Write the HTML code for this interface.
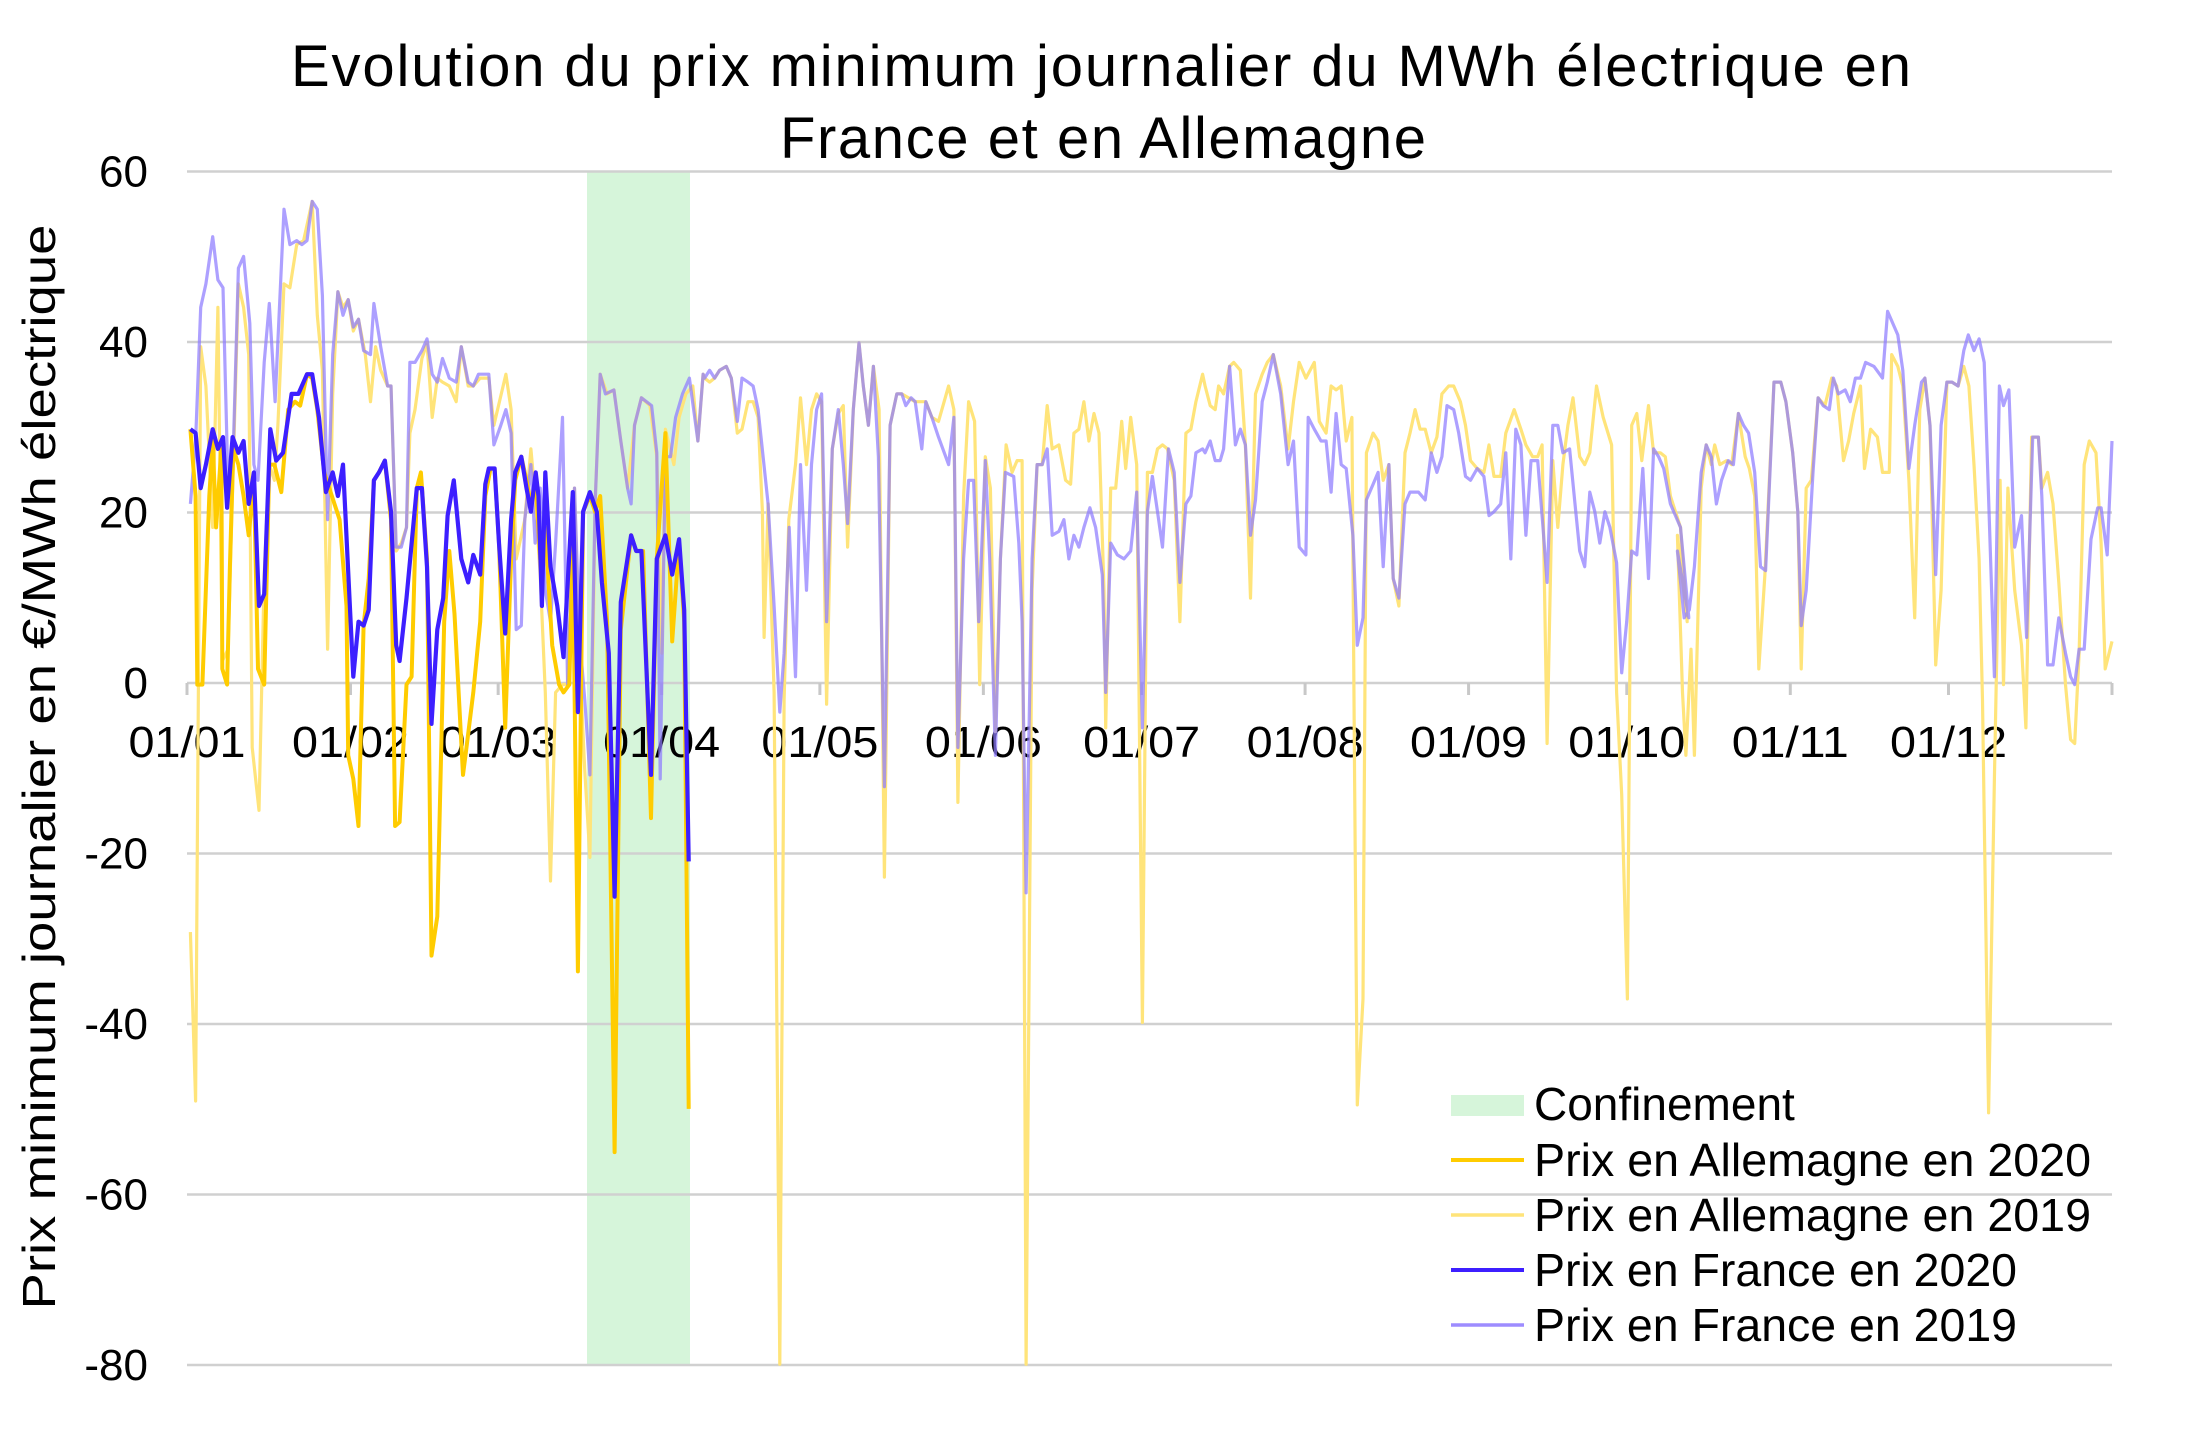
<!DOCTYPE html>
<html><head><meta charset="utf-8">
<style>
html,body{margin:0;padding:0;background:#fff;}
svg{display:block;}
text{font-family:"Liberation Sans",Arial,sans-serif;fill:#000;}
</style></head>
<body>
<svg id="s" width="2200" height="1429" viewBox="0 0 2200 1429" xmlns="http://www.w3.org/2000/svg">
<rect x="0" y="0" width="2200" height="1429" fill="#fff"/>
<text x="1101" y="86" font-size="58" text-anchor="middle" textLength="1620" lengthAdjust="spacing">Evolution du prix minimum journalier du MWh électrique en</text>
<text x="1103" y="158" font-size="58" text-anchor="middle" textLength="646" lengthAdjust="spacing">France et en Allemagne</text>
<text transform="translate(55,767) rotate(-90)" font-size="46" text-anchor="middle" textLength="1085" lengthAdjust="spacingAndGlyphs">Prix minimum journalier en €/MWh électrique</text>
<g id="plot"></g>
<g font-size="46">
<rect x="1451" y="1095" width="73" height="21" fill="#D6F5DA"/>
<text x="1534" y="1120">Confinement</text>
<line x1="1451" y1="1160" x2="1524" y2="1160" stroke="#FFCC00" stroke-width="4"/>
<text x="1534" y="1176" textLength="557" lengthAdjust="spacingAndGlyphs">Prix en Allemagne en 2020</text>
<line x1="1451" y1="1215" x2="1524" y2="1215" stroke="#FFE47A" stroke-width="3.5"/>
<text x="1534" y="1231" textLength="557" lengthAdjust="spacingAndGlyphs">Prix en Allemagne en 2019</text>
<line x1="1451" y1="1270" x2="1524" y2="1270" stroke="#3D1FFF" stroke-width="4"/>
<text x="1534" y="1286" textLength="483" lengthAdjust="spacingAndGlyphs">Prix en France en 2020</text>
<line x1="1451" y1="1325" x2="1524" y2="1325" stroke="#9D8CFF" stroke-width="3.5"/>
<text x="1534" y="1341" textLength="483" lengthAdjust="spacingAndGlyphs">Prix en France en 2019</text>
</g>
</svg>
<script>
var NS="http://www.w3.org/2000/svg";
var g=document.getElementById('plot');
var L=187,R=2112,Y0=683,PV=8.525,PD=(R-L)/365;
function X(d){return L+d*PD;}
function Y(v){return Y0-v*PV;}
function el(t,a,p){var e=document.createElementNS(NS,t);for(var k in a)e.setAttribute(k,a[k]);(p||g).appendChild(e);return e;}
el('rect',{x:587,y:Y(60),width:103,height:Y(-80)-Y(60),fill:'#D6F5DA'});
for(var v=60;v>=-80;v-=20){
 el('line',{x1:L,x2:R,y1:Y(v),y2:Y(v),stroke:'#D0D0D0','stroke-width':2.5});
 var t=el('text',{x:148,y:Y(v)+15,'font-size':44,'text-anchor':'end'});t.textContent=v;
}
var months=[0,31,59,90,120,151,181,212,243,273,304,334,365];
var lbl=['01/01','01/02','01/03','01/04','01/05','01/06','01/07','01/08','01/09','01/10','01/11','01/12'];
months.forEach(function(d,i){
 el('line',{x1:X(d),x2:X(d),y1:Y0,y2:Y0+12,stroke:'#C8C8C8','stroke-width':3});
 if(i<12){var t=el('text',{x:X(d),y:757,'font-size':44,'text-anchor':'middle',textLength:117,lengthAdjust:'spacingAndGlyphs'});t.textContent=lbl[i];}
});
function conv(seg,pts){
 var o=[];
 for(var i=0;i<pts.length;i+=2){
  var xz=pts[i],yz=pts[i+1],d;
  if(seg==0)d=Math.max(0,(xz-15)/15.38);
  else if(seg==1)d=112.4+(xz-235)/15.78;
  else if(seg==2)d=221.9+(xz-468)/15.7;
  else d=341.6+(xz-918)/15.56;
  if(d>365)d=365;
  var v=(678-yz)/10.85;
  if(v<-80)v=-80;
  o.push([X(d),Y(v)]);
 }
 return o;
}
function line(segs,col,w,op){
 var all=[];segs.forEach(function(s){all=all.concat(conv(s[0],s[1]));});
 el('polyline',{points:all.map(function(p){return p[0].toFixed(1)+','+p[1].toFixed(1);}).join(' '),fill:'none',stroke:col,'stroke-width':w,'stroke-linejoin':'round','stroke-opacity':op||1});
}
var DE19=[[0,[25,995,40,1210,55,250,70,300,90,480,105,200,118,650,135,635,150,400,165,170,180,200,195,260,205,760,225,840,240,540,255,400,270,420,280,350,298,170,315,175,335,120,355,115,380,65,395,210,410,280,425,635,440,310,455,180,470,200,485,190,500,230,515,215,535,260,550,320,565,250,580,280,600,300,610,300,625,510,640,500,655,480,665,360,680,330,700,265,715,245,730,340,745,290,760,295,780,300,800,320,815,250,835,300,850,300,870,290,895,290,910,350,945,285,960,330,975,520,1000,470,1018,380,1030,440,1045,540,1060,690,1075,930,1090,690,1110,680,1125,680,1145,430,1160,650,1175,790,1190,900,1205,450,1220,285,1240,310,1260,305,1280,370,1300,430,1320,350,1340,315,1365,325,1385,390,1400,640,1410,355,1435,400,1450,340,1470,310,1490,300,1505,370,1520,285]],
[1,[10,290,25,295,40,290,55,280,75,275,90,290,108,360,122,355,140,320,155,320,170,340,183,460,188,620,200,450,218,690,235,1545,248,700,262,470,282,400,297,315,315,400,330,330,345,310,360,320,375,705,392,380,410,335,425,325,438,505,455,330,472,245,485,300,500,350,515,275,532,330,548,925,565,350,585,310,600,310,640,320,672,320,690,340,710,345,740,300,756,330,768,830,785,440,800,320,818,345,833,680,850,390,865,430,880,740,895,520,912,375,930,410,945,395,960,395,972,1545,990,560,1005,400,1020,400,1035,325,1050,380,1070,375,1090,420,1105,425,1115,360,1130,355,1145,320,1160,370,1175,335,1190,360,1205,560,1210,735,1225,430,1240,430,1258,345,1270,405,1285,340,1303,400,1320,1110,1335,410,1350,410,1365,380,1380,375,1395,380,1415,420,1432,600,1450,360,1465,355,1480,320,1500,285]],
[2,[15,300,30,325,45,330,55,300,70,310,88,275,100,270,120,280,135,375,150,570,165,310,185,285,200,270,218,260,240,300,262,380,278,320,295,270,315,290,340,270,355,345,375,360,390,300,405,305,420,300,435,370,452,340,460,800,468,1215,485,1080,495,385,515,360,530,370,545,420,562,400,575,545,592,580,610,385,625,360,640,330,655,355,670,355,688,385,705,365,720,310,740,300,755,300,775,320,790,350,805,395,825,405,845,410,860,375,875,415,895,415,910,360,935,330,955,355,970,375,990,390,1005,390,1018,375,1033,755,1050,395,1065,480,1080,400,1095,350,1110,315,1130,390,1145,400,1160,385,1180,300,1200,340,1225,375,1240,690,1255,820,1272,1080,1285,350,1300,335,1315,395,1335,325,1350,385,1370,385,1385,390,1400,440,1430,480,1450,600]],
[3,[0,490,15,690,25,770,40,635,50,770,70,430,85,375,100,400,110,375,125,400,145,395,160,400,180,335,200,390,212,405,228,440,240,660,258,540,285,295,305,295,320,320,340,385,355,460,365,660,380,430,395,420,415,315,435,325,455,290,470,300,490,395,505,370,520,335,540,300,552,405,570,355,590,365,605,410,625,410,632,260,650,275,665,300,683,420,700,595,715,330,730,290,745,350,762,655,778,560,795,295,810,295,828,300,845,275,860,300,875,400,890,520,900,700,918,1225,935,800,952,420,962,680,975,430,995,560,1015,630,1028,735,1045,365,1065,365,1075,430,1092,410,1108,450,1125,550,1145,680,1160,750,1172,755,1185,640,1200,400,1215,370,1235,385,1250,500,1262,660,1282,625]]];
var FR19=[[0,[25,450,40,370,55,200,70,170,90,110,105,165,120,175,135,430,150,380,165,150,180,135,198,220,210,400,222,420,240,270,255,195,272,320,298,75,315,120,335,115,350,120,365,115,380,65,395,75,410,185,425,470,440,260,455,180,470,210,485,190,500,225,515,215,530,255,550,260,560,195,580,250,600,300,610,300,625,505,640,505,655,480,665,270,680,270,700,255,715,240,730,285,745,295,760,265,780,290,800,295,815,250,835,295,850,300,865,285,895,285,910,375,930,350,945,330,960,360,975,610,990,605,1000,470,1018,400,1030,500,1045,430,1060,560,1075,600,1090,500,1110,340,1125,680,1145,430,1160,620,1175,700,1190,795,1205,450,1220,285,1235,310,1260,305,1280,370,1300,430,1310,450,1320,350,1340,315,1370,325,1385,385,1395,800,1410,390,1425,390,1440,340,1460,310,1480,290,1505,370,1520,285]],
[1,[10,290,25,280,40,290,55,280,75,275,90,290,108,345,122,290,140,295,155,300,170,330,185,390,200,450,218,580,235,715,248,640,263,480,282,670,297,400,315,560,330,400,345,330,360,310,375,600,392,380,410,330,425,400,438,475,455,330,472,245,485,300,500,350,515,275,530,390,548,810,565,350,585,310,600,310,612,325,628,315,640,320,660,380,672,320,690,340,710,365,740,400,756,340,768,760,785,520,800,420,815,420,830,600,850,395,863,520,880,770,895,520,910,410,935,415,950,500,960,600,972,945,990,520,1005,400,1020,400,1035,380,1050,490,1070,485,1085,470,1100,520,1115,490,1130,505,1145,480,1163,455,1180,480,1200,540,1210,690,1225,500,1245,515,1265,520,1285,510,1303,435,1320,735,1335,460,1350,415,1365,460,1380,505,1398,380,1415,410,1432,550,1450,450,1465,440,1480,385,1500,380]],
[2,[15,385,30,370,45,395,60,395,70,380,88,275,105,375,120,355,135,375,150,490,165,445,185,320,200,295,218,260,240,310,262,400,278,370,295,505,315,515,322,340,340,355,360,370,375,370,390,435,405,335,420,400,435,405,455,490,468,630,485,595,495,445,515,425,530,410,545,530,562,400,575,545,592,570,610,450,625,435,650,435,670,445,688,385,705,410,720,390,735,325,755,330,770,360,790,415,805,420,825,405,845,415,860,465,875,460,895,450,910,385,925,520,940,355,955,375,970,490,985,395,1005,395,1020,475,1033,550,1050,350,1065,350,1080,385,1100,380,1115,445,1130,510,1145,530,1160,435,1175,460,1190,500,1205,460,1220,480,1240,525,1255,665,1270,600,1285,510,1300,515,1318,405,1335,545,1350,380,1365,390,1380,405,1400,450,1430,480,1455,595]],
[3,[0,510,20,595,35,585,50,530,70,410,85,375,100,390,115,450,130,420,150,395,165,400,180,335,195,350,210,360,228,410,245,530,260,535,285,295,305,295,320,320,340,385,355,460,365,605,380,560,400,410,415,315,430,325,448,330,460,290,475,310,495,305,510,320,525,290,540,290,555,270,580,275,605,290,620,205,650,235,665,280,683,405,700,350,720,295,730,290,745,350,762,540,778,350,795,295,810,295,828,300,845,255,858,235,875,255,890,240,905,270,935,670,950,300,962,325,978,305,995,505,1015,465,1030,620,1048,365,1065,365,1075,440,1092,655,1108,655,1125,595,1145,640,1160,670,1172,680,1185,635,1200,635,1220,495,1240,455,1250,455,1268,515,1282,370]]];
var DE20=[[0,[25,355,40,440,45,680,60,680,80,440,90,370,100,480,115,380,118,660,132,680,140,530,150,380,165,400,180,440,195,490,210,420,222,660,240,680,255,400,270,400,290,435,310,330,330,320,345,325,365,285,380,290,395,330,415,410,430,430,460,470,480,580,485,770,500,800,515,860,530,605,545,545,560,420,575,410,592,395,610,470,622,860,635,855,655,680,670,670,685,430,697,410,715,520,728,1025,745,975,765,600,780,510,795,590,820,795,830,760,850,690,870,600,885,440,900,405,912,405,925,500,943,735,960,520,972,420,990,390,1005,420,1018,450,1032,420,1045,520,1060,480,1080,630,1100,680,1113,690,1130,680,1140,500,1155,1045,1170,460,1190,440,1205,460,1220,440,1240,600,1262,1275,1280,610,1310,490,1325,510,1345,510,1368,850,1385,520,1410,360,1430,625,1450,500,1465,600,1478,1220]]];
var FR20=[[0,[25,355,40,360,55,430,70,400,90,355,105,380,120,365,132,455,148,365,165,385,180,370,195,450,210,410,225,580,240,565,258,355,275,395,295,385,320,310,340,310,365,285,380,285,400,340,420,435,440,410,455,440,470,400,500,670,515,600,530,605,545,585,560,420,575,410,592,395,610,460,625,630,635,650,655,570,685,430,700,430,715,530,728,730,745,610,762,570,775,465,793,420,815,520,835,550,850,515,870,540,885,425,895,405,912,405,925,500,943,615,960,470,972,410,990,390,1005,430,1018,460,1032,410,1040,440,1050,580,1060,410,1075,530,1095,580,1113,645,1140,435,1155,715,1170,460,1190,435,1210,460,1225,550,1245,640,1262,950,1280,575,1310,490,1325,510,1340,510,1368,795,1385,520,1410,490,1430,540,1450,495,1465,585,1478,905]]];
line(DE19,'#FFE47A',3.2,1);
line(FR19,'#8E7BFF',3.2,0.72);
line(DE20,'#FFCC00',4,1);
line(FR20,'#3D1FFF',4.2,1);
</script>
</body></html>
